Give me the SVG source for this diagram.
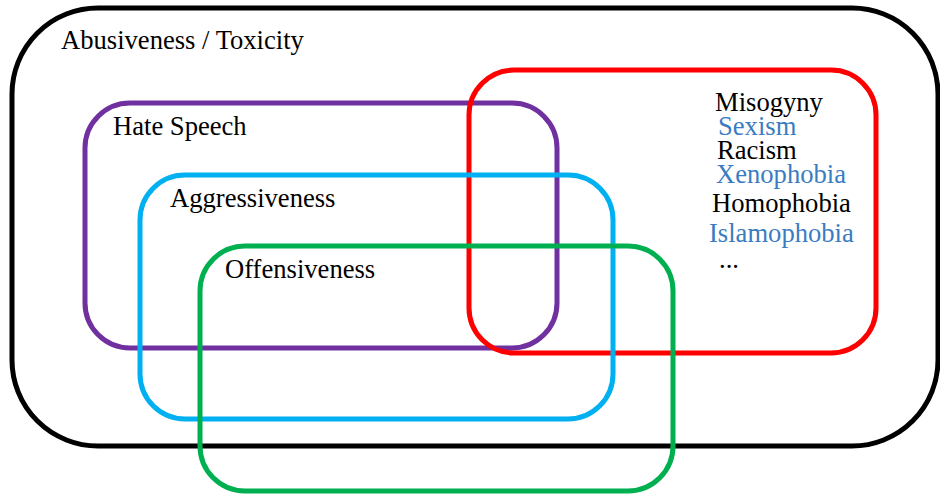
<svg xmlns="http://www.w3.org/2000/svg" width="940" height="497" viewBox="0 0 940 497">
  <style>
    .box { fill: none; stroke-width: 5; }
    .label { font-family: "Liberation Serif", "Times New Roman", serif; font-size: 26.6px; fill: #000000; }
    .blue { fill: #3A7CC2; }
  </style>
  <rect x="0" y="0" width="940" height="497" fill="#ffffff"/>

  <!-- Outer category -->
  <g id="abusiveness">
    <rect class="box" x="12" y="8" width="926" height="438" rx="86" ry="86" stroke="#000000" stroke-width="5.5"/>
    <text class="label" x="61" y="49">Abusiveness / Toxicity</text>
  </g>

  <g id="hate-speech">
    <rect class="box" x="85" y="103" width="472" height="245" rx="45" ry="45" stroke="#7030A0"/>
    <text class="label" x="113" y="135">Hate Speech</text>
  </g>

  <!-- Target-specific categories -->
  <g id="targets">
    <rect class="box" x="469" y="70" width="407" height="283" rx="45" ry="45" stroke="#FF0000"/>
    <text class="label" x="715" y="111">Misogyny</text>
    <text class="label blue" x="718" y="135">Sexism</text>
    <text class="label" x="717" y="159">Racism</text>
    <text class="label blue" x="716" y="183">Xenophobia</text>
    <text class="label" x="712" y="212">Homophobia</text>
    <text class="label blue" x="709" y="242">Islamophobia</text>
    <text class="label" x="719" y="268">...</text>
  </g>

  <g id="aggressiveness">
    <rect class="box" x="140" y="175" width="473" height="244" rx="45" ry="45" stroke="#00B0F0"/>
    <text class="label" x="170" y="207">Aggressiveness</text>
  </g>

  <g id="offensiveness">
    <rect class="box" x="200" y="246" width="473" height="245" rx="45" ry="45" stroke="#00B050"/>
    <text class="label" x="225" y="278">Offensiveness</text>
  </g>

  <g id="connectors"></g>
</svg>
